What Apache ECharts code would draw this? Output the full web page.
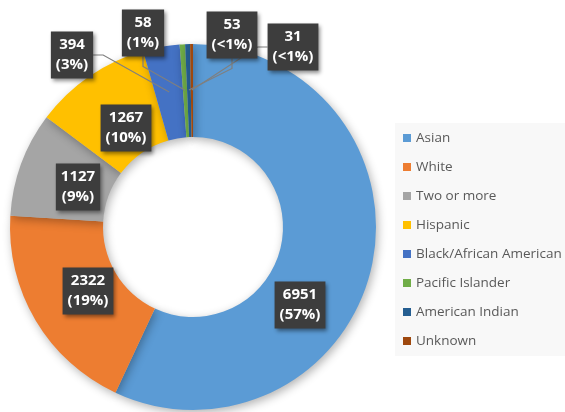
<!DOCTYPE html>
<html>
<head>
<meta charset="utf-8">
<script src="https://cdn.jsdelivr.net/npm/echarts@6/dist/echarts.min.js"></script>
<style>
html,body{margin:0;padding:0;background:#fff;}
#c{width:565px;height:412px;}
</style>
</head>
<body>
<div id="c"></div>
<script>
const categories = ['Asian','White','Two or more','Hispanic','Black/African American','Pacific Islander','American Indian','Unknown'];
const values = [6951, 2322, 1127, 1267, 394, 58, 53, 31];
const percentLabels = ['57%','19%','9%','10%','3%','1%','<1%','<1%'];
const colors = ['#5B9BD5','#ED7D31','#A5A5A5','#FFC000','#4472C4','#70AD47','#255E91','#9E480E'];

// label anchor positions (layout only)
const labelPos = [[300,305],[88,291],[78,187],[126,128],[72,55],[143,33],[232,35],[293,47]];
const withLine = [false,false,false,false,true,true,true,true];

const chart = echarts.init(document.getElementById('c'), null, {renderer:'canvas'});

const labelStyle = {
  show:true,
  position:'outside',
  formatter:(p)=>p.value+'\n('+percentLabels[p.dataIndex]+')',
  fontFamily:'Open Sans', fontWeight:'bold', fontSize:15, color:'#fff',
  lineHeight:20,
  backgroundColor:'#3d3d3d',
  padding:[4,5,3,5],
  align:'center',
  shadowBlur:4, shadowColor:'rgba(0,0,0,0.45)', shadowOffsetX:2, shadowOffsetY:2
};
const layoutFn = function(params){
  const p = labelPos[params.dataIndex];
  return {x:p[0], y:p[1], align:'center', verticalAlign:'middle'};
};

const mainData = categories.map((n,i)=>({
  name:n, value:values[i],
  itemStyle:{color:colors[i]},
  label:{show:!withLine[i]},
  labelLine:{show:false}
}));
const guideData = categories.map((n,i)=>({
  name:n, value:values[i],
  label:{show:withLine[i]},
  labelLine:{show:withLine[i]}
}));

chart.setOption({
  animation:false,
  legend:{
    orient:'vertical',
    left:395, top:123,
    width:170,
    padding:[7,20,7,8],
    backgroundColor:'#f8f8f8',
    itemWidth:8, itemHeight:8,
    itemGap:13,
    icon:'rect',
    textStyle:{fontFamily:'Open Sans', fontSize:13.5, color:'#595959', lineHeight:16},
    data:categories.map(n=>({name:n, itemStyle:{color:colors[categories.indexOf(n)]}}))
  },
  series:[{
    type:'pie',
    name:'main',
    z:2,
    center:[193,227],
    radius:[90,183],
    startAngle:90,
    clockwise:true,
    avoidLabelOverlap:false,
    data:mainData,
    itemStyle:{
      borderWidth:0,
      shadowBlur:10, shadowColor:'rgba(0,0,0,0.3)', shadowOffsetX:2, shadowOffsetY:3
    },
    label:labelStyle,
    labelLayout:layoutFn,
    emphasis:{disabled:true}
  },{
    type:'pie',
    name:'guides',
    z:5,
    center:[193,227],
    radius:[0,137],
    startAngle:90,
    clockwise:true,
    avoidLabelOverlap:false,
    silent:true,
    legendHoverLink:false,
    data:guideData,
    itemStyle:{color:'rgba(0,0,0,0)', borderWidth:0},
    label:labelStyle,
    labelLine:{show:true, length:10, length2:10, lineStyle:{color:'#7f7f7f', width:1.2}},
    labelLayout:layoutFn,
    emphasis:{disabled:true}
  }]
});
</script>
</body>
</html>
